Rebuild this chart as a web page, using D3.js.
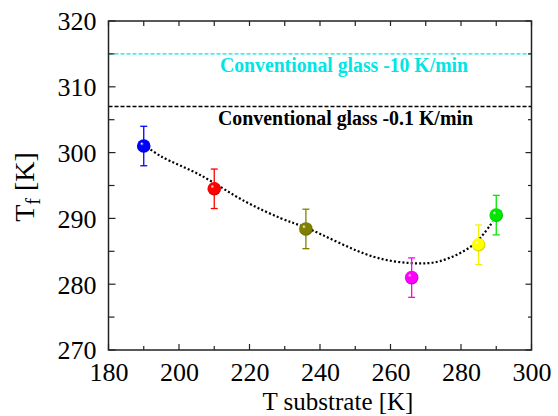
<!DOCTYPE html>
<html>
<head>
<meta charset="utf-8">
<script src="https://cdn.jsdelivr.net/npm/d3@7"></script>
<style>
  html, body { margin: 0; padding: 0; background: #fff; }
  svg { display: block; }
  text { font-family: "Liberation Serif", "Times New Roman", serif; }
</style>
</head>
<body>
<svg id="chart" width="558" height="416"></svg>
<script>
// ---- data ----
const tSubstrate = [190, 210, 236, 266, 285, 290];
const tFictive   = [301, 294.5, 288.4, 281, 286, 290.5];
const tErr       = [3, 3, 3, 3, 3, 3];
const pointColors = ["#0000ff", "#ff0000", "#808000", "#ff00ff", "#ffff00", "#00e800"];

const fitX = [190, 195, 206, 219, 229, 236, 255, 266, 274, 283.5, 289];
const fitY = [301.2, 299.4, 296.6, 292.5, 290.0, 288.6, 284.2, 283.2, 283.5, 286.0, 289.5];

const refValues = [315, 307];
const refLabels = ["Conventional glass -10 K/min", "Conventional glass -0.1 K/min"];
const refColors = ["#00e5e5", "#000000"];

const xTicks = [180, 200, 220, 240, 260, 280, 300];
const yTicks = [270, 280, 290, 300, 310, 320];

// ---- layout ----
const svg = d3.select("#chart");
const L = 108.5, R = 531.5, T = 21, B = 350;
const x = d3.scaleLinear().domain([180, 300]).range([L, R]);
const y = d3.scaleLinear().domain([270, 320]).range([B, T]);

// gradients for spheres
const defs = svg.append("defs");
pointColors.forEach((c, i) => {
  const g = defs.append("radialGradient").attr("id", "sph" + i)
    .attr("cx", "50%").attr("cy", "50%").attr("r", "55%")
    .attr("fx", "33%").attr("fy", "30%");
  g.append("stop").attr("offset", "0%").attr("stop-color", "#ffffff");
  g.append("stop").attr("offset", "25%").attr("stop-color", c);
  g.append("stop").attr("offset", "75%").attr("stop-color", c);
  g.append("stop").attr("offset", "100%").attr("stop-color", d3.color(c).darker(1));
});

// reference lines
refValues.forEach((v, i) => {
  svg.append("line")
    .attr("x1", L).attr("x2", R).attr("y1", y(v)).attr("y2", y(v))
    .attr("stroke", refColors[i]).attr("stroke-width", 1.4)
    .attr("stroke-dasharray", "4,2");
});
svg.append("text").attr("x", 220).attr("y", 72)
  .attr("font-size", 20).attr("font-weight", "bold").attr("fill", refColors[0])
  .attr("textLength", 248).attr("lengthAdjust", "spacingAndGlyphs")
  .text(refLabels[0]);
svg.append("text").attr("x", 218).attr("y", 125)
  .attr("font-size", 20).attr("font-weight", "bold").attr("fill", refColors[1])
  .attr("textLength", 255).attr("lengthAdjust", "spacingAndGlyphs")
  .text(refLabels[1]);

// axes ticks
const frame = svg.append("g");
const xMinor = d3.range(180, 301, 10);
const yMinor = d3.range(270, 321, 5);
xMinor.forEach(v => {
  const major = v % 20 === 0;
  frame.append("line").attr("x1", x(v)).attr("x2", x(v)).attr("y1", B).attr("y2", B - (major ? 6 : 4))
    .attr("stroke", "#222").attr("stroke-width", 1.2);
  frame.append("line").attr("x1", x(v)).attr("x2", x(v)).attr("y1", T).attr("y2", T + 5)
    .attr("stroke", "#222").attr("stroke-width", 1.2);
});
yMinor.forEach(v => {
  const major = v % 10 === 0;
  frame.append("line").attr("x1", L).attr("x2", L + (major ? 7 : 6)).attr("y1", y(v)).attr("y2", y(v))
    .attr("stroke", "#222").attr("stroke-width", 1.2);
  frame.append("line").attr("x1", R).attr("x2", R - (major ? 6 : 3.5)).attr("y1", y(v)).attr("y2", y(v))
    .attr("stroke", "#222").attr("stroke-width", 1.2);
});

// tick labels via d3 axes (lines hidden)
const xAxis = svg.append("g").attr("transform", `translate(0,${B})`)
  .call(d3.axisBottom(x).tickValues(xTicks).tickSize(0).tickPadding(0).tickFormat(d3.format("d")));
xAxis.select(".domain").remove();
xAxis.selectAll("text").attr("font-size", 26).attr("fill", "#000")
  .attr("font-family", "'Liberation Serif', 'Times New Roman', serif")
  .attr("dy", null).attr("y", 31);

const yAxis = svg.append("g").attr("transform", `translate(${L},0)`)
  .call(d3.axisLeft(y).tickValues(yTicks).tickSize(0).tickPadding(12).tickFormat(d3.format("d")));
yAxis.select(".domain").remove();
yAxis.selectAll("text").attr("font-size", 26).attr("fill", "#000")
  .attr("font-family", "'Liberation Serif', 'Times New Roman', serif")
  .attr("dy", "0.34em");

// frame
frame.append("rect").attr("x", L).attr("y", T).attr("width", R - L).attr("height", B - T)
  .attr("fill", "none").attr("stroke", "#222").attr("stroke-width", 1.5);

// fit curve
const line = d3.line().x((d, i) => x(fitX[i])).y((d, i) => y(fitY[i])).curve(d3.curveCatmullRom);
svg.append("path").attr("d", line(fitX))
  .attr("fill", "none").attr("stroke", "#000").attr("stroke-width", 2.2)
  .attr("stroke-dasharray", "2,2.2");

// error bars and points
tSubstrate.forEach((t, i) => {
  const cx = x(t), c = pointColors[i];
  const ec = c === "#ffff00" ? "#f2f200" : c;
  const g = svg.append("g");
  g.append("line").attr("x1", cx).attr("x2", cx).attr("y1", y(tFictive[i] - tErr[i])).attr("y2", y(tFictive[i] + tErr[i]))
    .attr("stroke", ec).attr("stroke-width", 1.3);
  [tFictive[i] - tErr[i], tFictive[i] + tErr[i]].forEach(v => {
    g.append("line").attr("x1", cx - 3.5).attr("x2", cx + 3.5).attr("y1", y(v)).attr("y2", y(v))
      .attr("stroke", ec).attr("stroke-width", 1.3);
  });
  g.append("circle").attr("cx", cx).attr("cy", y(tFictive[i])).attr("r", 6.8)
    .attr("fill", `url(#sph${i})`);
});

// axis titles
svg.append("text").attr("x", 338).attr("y", 410).attr("text-anchor", "middle")
  .attr("font-size", 25).text("T substrate [K]");

const yt = svg.append("text").attr("transform", "translate(34,187) rotate(-90)")
  .attr("text-anchor", "middle").attr("font-size", 28);
yt.append("tspan").text("T");
yt.append("tspan").attr("font-size", 20).attr("dy", 6).text("f");
yt.append("tspan").attr("dy", -6).text(" [K]");
</script>
</body>
</html>
